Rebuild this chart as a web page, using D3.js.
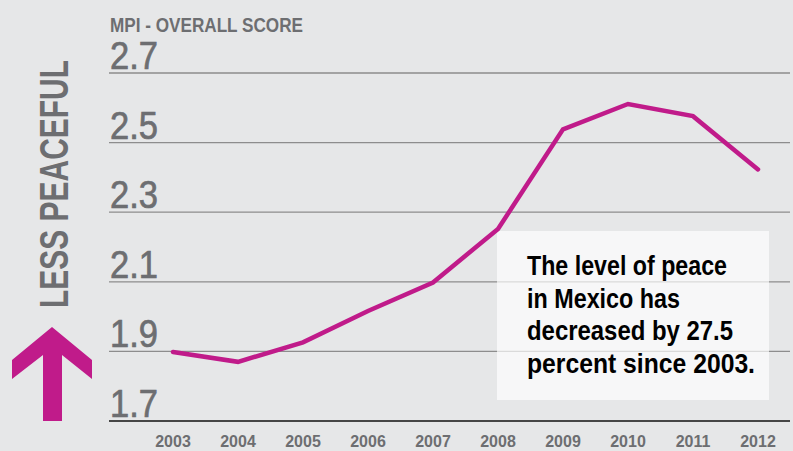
<!DOCTYPE html>
<html>
<head>
<meta charset="utf-8">
<script src="https://cdn.jsdelivr.net/npm/d3@7"></script>
<style>
  html, body { margin: 0; padding: 0; background: #e6e7e8; }
  svg { display: block; }
  text { font-family: "Liberation Sans", Arial, sans-serif; }
</style>
</head>
<body>
<svg id="chart" width="793" height="451"></svg>
<script>
const years = [2003, 2004, 2005, 2006, 2007, 2008, 2009, 2010, 2011, 2012]
const scores = [1.898, 1.870, 1.926, 2.016, 2.098, 2.252, 2.538, 2.611, 2.576, 2.423]
const yTicks = [1.7, 1.9, 2.1, 2.3, 2.5, 2.7]
const title = 'MPI - OVERALL SCORE'
const sideLabel = 'LESS PEACEFUL'
const note = ['The level of peace', 'in Mexico has', 'decreased by 27.5', 'percent since 2003.']

// layout: rendered widths of the condensed lettering in the original
const noteWidths = [200, 153, 206, 228]

const gray = '#6d6e71', magenta = '#c01b8a'
const svg = d3.select('#chart')

const x = d3.scaleLinear().domain([2003, 2012]).range([173, 758])
const y = d3.scaleLinear().domain([1.7, 2.7]).range([421, 73])
const left = 109, right = 790

svg.append('rect').attr('width', 793).attr('height', 451).attr('fill', '#e6e7e8')

// title
svg.append('text')
  .attr('x', 110).attr('y', 32)
  .attr('font-size', 21).attr('font-weight', 'bold').attr('fill', gray)
  .attr('textLength', 193).attr('lengthAdjust', 'spacingAndGlyphs')
  .text(title)

// grid + y labels
const grid = svg.append('g')
grid.selectAll('line').data(yTicks).join('line')
  .attr('x1', left).attr('x2', right)
  .attr('y1', d => y(d)).attr('y2', d => y(d))
  .attr('stroke', d => d === 1.7 ? '#111' : '#8d8d8d')
  .attr('stroke-width', d => d === 1.7 ? 1.6 : 1.3)

grid.selectAll('text').data(yTicks).join('text')
  .attr('x', 110).attr('y', d => y(d) - 4)
  .attr('font-size', 38).attr('fill', gray)
  .attr('stroke', gray).attr('stroke-width', 0.7)
  .attr('textLength', 48).attr('lengthAdjust', 'spacingAndGlyphs')
  .text(d => d.toFixed(1))

// x labels
svg.append('g').selectAll('text').data(years).join('text')
  .attr('x', d => x(d)).attr('y', 447)
  .attr('text-anchor', 'middle')
  .attr('font-size', 16).attr('font-weight', 'bold').attr('fill', gray)
  .text(d => d)

// annotation box
svg.append('rect')
  .attr('x', 497).attr('y', 231).attr('width', 272).attr('height', 169)
  .attr('fill', '#fff').attr('fill-opacity', 0.68)

svg.append('g').selectAll('text').data(note).join('text')
  .attr('x', 527).attr('y', (d, i) => 275 + i * 32.5)
  .attr('font-size', 27).attr('font-weight', 'bold').attr('fill', '#000')
  .attr('textLength', (d, i) => noteWidths[i]).attr('lengthAdjust', 'spacingAndGlyphs')
  .text(d => d)

// line
const line = d3.line().x(d => x(d[0])).y(d => y(d[1]))
svg.append('path')
  .datum(d3.zip(years, scores))
  .attr('d', line)
  .attr('fill', 'none').attr('stroke', magenta)
  .attr('stroke-width', 4.5).attr('stroke-linecap', 'round').attr('stroke-linejoin', 'miter')

// side label + arrow
svg.append('text')
  .attr('transform', 'translate(68,308) rotate(-90)')
  .attr('font-size', 41).attr('font-weight', 'bold').attr('fill', gray)
  .attr('textLength', 248).attr('lengthAdjust', 'spacingAndGlyphs')
  .text(sideLabel)

const arrow = [[52, 327], [92, 360], [92, 379], [62, 355], [62, 421], [43, 421], [43, 355], [12, 379], [12, 360]]
svg.append('polygon')
  .attr('points', arrow.map(p => p.join(',')).join(' '))
  .attr('fill', magenta)
</script>
</body>
</html>
